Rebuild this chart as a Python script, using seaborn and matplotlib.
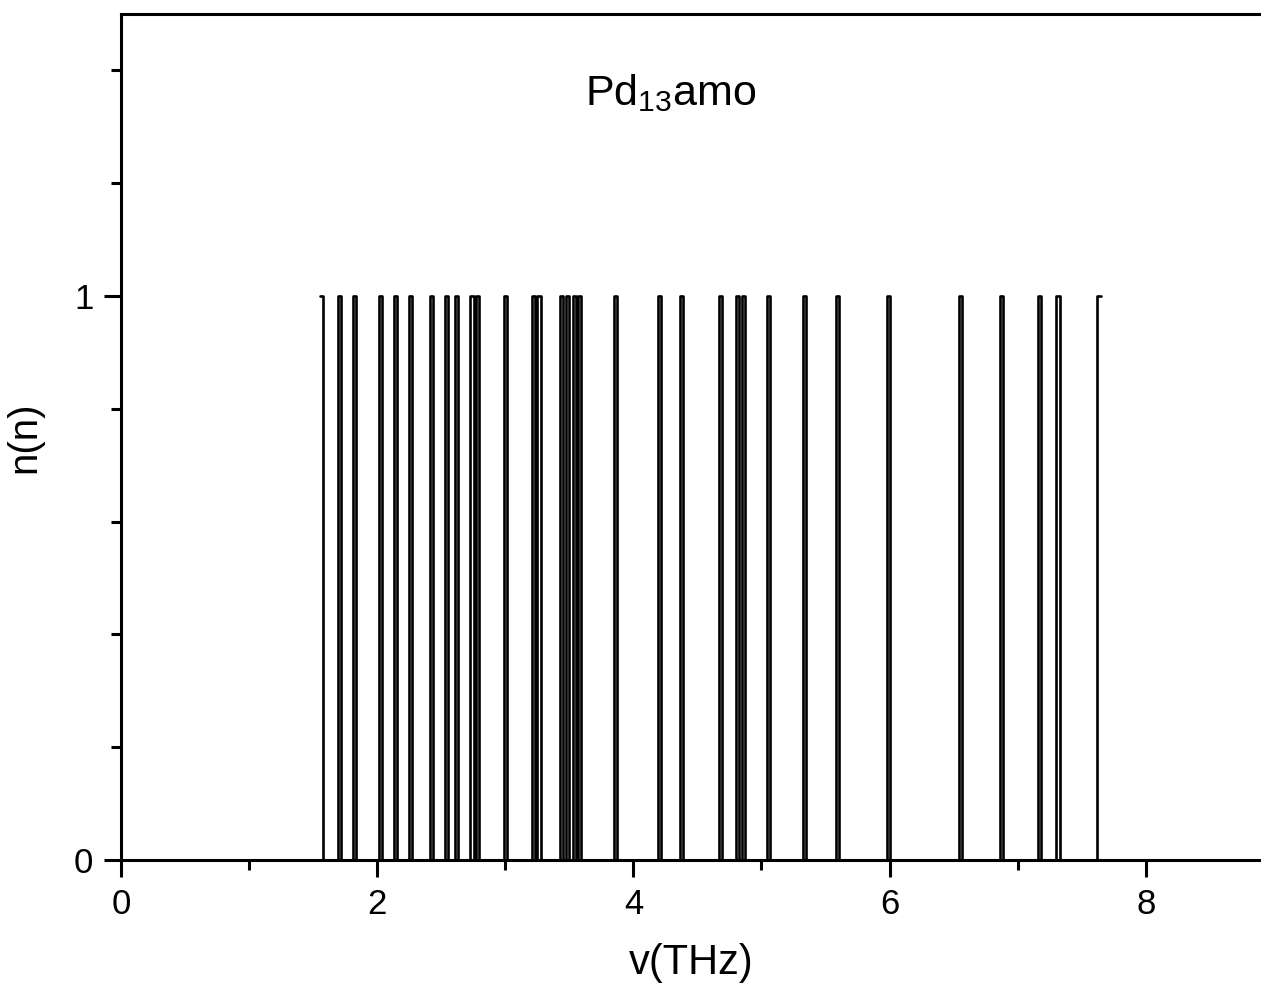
import numpy as np
import seaborn as sns
import matplotlib
matplotlib.use("Agg")
import matplotlib.pyplot as plt
from matplotlib.ticker import MultipleLocator

# vibrational frequencies (THz), each mode counted once
freqs = [1.562, 1.703, 1.823, 2.023, 2.143, 2.260, 2.422, 2.539, 2.620, 2.740,
         2.781, 3.000, 3.221, 3.263, 3.440, 3.482, 3.539, 3.580, 3.859, 4.201,
         4.377, 4.677, 4.815, 4.857, 5.057, 5.336, 5.596, 5.995, 6.555, 6.875,
         7.174, 7.315, 7.635]
bar_w = 0.024

sns.set_style("ticks")
plt.rcParams['font.family'] = ['Liberation Sans', 'DejaVu Sans']
plt.rcParams['mathtext.fontset'] = 'custom'
plt.rcParams['mathtext.rm'] = 'Liberation Sans'
plt.rcParams['mathtext.it'] = 'Liberation Sans'
plt.rcParams['text.color'] = 'black'
plt.rcParams['axes.labelcolor'] = 'black'
plt.rcParams['axes.edgecolor'] = 'black'
plt.rcParams['xtick.color'] = 'black'
plt.rcParams['ytick.color'] = 'black'

fig = plt.figure(figsize=(12.61, 9.91), dpi=100)
ax = fig.add_axes([0.096, 0.1322, 0.904, 0.8537])

f = np.array(freqs)
edges = np.sort(np.concatenate([f - bar_w / 2, f + bar_w / 2]))
sns.histplot(x=f, bins=edges, element="step", fill=False, color="black",
             linewidth=1.9, ax=ax)

ax.set_xlim(0, 8.9)
ax.set_ylim(0, 1.5)
ax.xaxis.set_major_locator(MultipleLocator(2))
ax.xaxis.set_minor_locator(MultipleLocator(1))
ax.set_yticks([0, 1])
ax.yaxis.set_minor_locator(MultipleLocator(0.2))

for s in ["left", "bottom", "top"]:
    ax.spines[s].set_linewidth(2.2)
ax.spines["right"].set_visible(False)
ax.tick_params(which="major", direction="out", length=12, width=2.2, labelsize=25, pad=8)
ax.tick_params(which="minor", direction="out", length=7, width=2.2)

ax.set_xlabel("v(THz)", fontsize=30, labelpad=16)
ax.set_ylabel("n(n)", fontsize=29, labelpad=22)
ax.text(4.29, 1.36, r"Pd$_{13}$amo", fontsize=31, ha="center", va="center")

fig.savefig("out.png", dpi=100)
